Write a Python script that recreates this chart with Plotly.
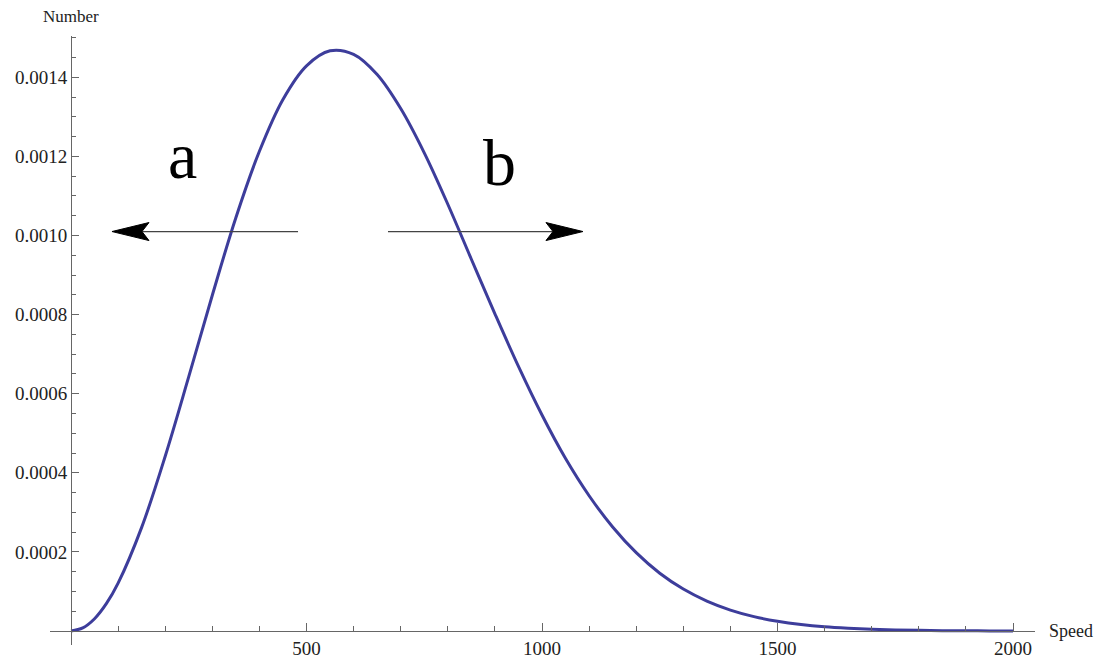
import plotly.graph_objects as go

# values (speed vs. fraction of molecules)
speed = [0, 25, 50, 75, 100, 150, 200, 250, 300, 350, 400, 450, 500, 550, 600, 650, 700,
         750, 800, 850, 900, 950, 1000, 1050, 1100, 1150, 1200, 1250, 1300, 1350, 1400,
         1450, 1500, 1550, 1600, 1650, 1700, 1750, 1800, 1850, 1900, 1950, 2000]
number = [0.0, 0.0000078, 0.000031, 0.000069, 0.000121, 0.000262, 0.000442, 0.000643,
          0.000849, 0.001045, 0.001213, 0.001344, 0.001429, 0.001467, 0.001458, 0.001407,
          0.001321, 0.001209, 0.001079, 0.000940, 0.000802, 0.000669, 0.000546, 0.000436,
          0.000342, 0.000263, 0.000198, 0.000146, 0.000106, 0.0000756, 0.0000529, 0.0000363,
          0.0000245, 0.0000162, 0.0000105, 0.0000068, 0.0000042, 0.0000026, 0.0000016,
          0.0000009, 0.0000005, 0.0000003, 0.0000002]

x_ticks = [500, 1000, 1500, 2000]
y_ticks = [0.0002, 0.0004, 0.0006, 0.0008, 0.0010, 0.0012, 0.0014]
y_labels = ["0.0002", "0.0004", "0.0006", "0.0008", "0.0010", "0.0012", "0.0014"]

xr = [-44.6, 2046.7]
yr = [-0.0000354, 0.0015044]
serif = "Liberation Serif, Times New Roman, serif"
axis_col = "#666666"

fig = go.Figure()
fig.add_trace(go.Scatter(x=speed, y=number, mode="lines",
                         line=dict(color="#3D3D9B", width=3, shape="spline", smoothing=1),
                         showlegend=False, hoverinfo="skip"))

fig.update_xaxes(range=xr, anchor="free", position=(0 - yr[0]) / (yr[1] - yr[0]),
                 automargin=False,
                 showgrid=False, zeroline=False, showline=True, linecolor=axis_col, linewidth=1,
                 tickmode="array", tickvals=x_ticks, ticks="inside", ticklen=8,
                 tickcolor=axis_col, tickfont=dict(family=serif, size=19, color="#222"),
                 minor=dict(dtick=100, tick0=0, ticks="inside", ticklen=5, tickcolor=axis_col,
                            showgrid=False))
fig.update_yaxes(range=yr, anchor="free", position=(0 - xr[0]) / (xr[1] - xr[0]),
                 automargin=False,
                 showgrid=False, zeroline=False, showline=True, linecolor=axis_col, linewidth=1,
                 tickmode="array", tickvals=y_ticks, ticktext=y_labels, ticks="inside", ticklen=7,
                 tickcolor=axis_col, tickfont=dict(family=serif, size=19, color="#222"),
                 minor=dict(dtick=0.00005, tick0=0, ticks="inside", ticklen=4, tickcolor=axis_col,
                            showgrid=False))

# arrows: shaft lines + filled barbed heads drawn in pixels at the tip
arrow_y = 0.00101
arrows = [(482, 87, 1), (673, 1087, -1)]  # tail x, tip x, direction
for tail, tip, d in arrows:
    fig.add_shape(type="line", x0=tail, x1=tip + d * 20, y0=arrow_y, y1=arrow_y,
                  line=dict(color="#444444", width=1.3))
    p = f"M0,0 L{d*37},9 L{d*30},0 L{d*37},-9 Z"
    fig.add_shape(type="path", xsizemode="pixel", ysizemode="pixel",
                  xanchor=tip, yanchor=arrow_y, path=p,
                  fillcolor="black", line=dict(color="black", width=1))

fig.add_annotation(x=236, y=0.0012035, text="a", showarrow=False,
                   font=dict(family=serif, size=66, color="black"))
fig.add_annotation(x=909, y=0.0011858, text="b", showarrow=False,
                   font=dict(family=serif, size=66, color="black"))

fig.add_annotation(x=0, y=1, xref="x", yref="paper", yshift=31, text="Number",
                   showarrow=False, font=dict(family=serif, size=17, color="#222"))
fig.add_annotation(x=1, y=0, xref="paper", yref="y", xanchor="left", xshift=12,
                   text="Speed", showarrow=False, font=dict(family=serif, size=18, color="#222"))

# page body adds an 8px offset, so margins are shifted to keep the plot area in place
fig.update_layout(width=1104, height=663, margin=dict(l=42, r=77, t=28, b=26),
                  plot_bgcolor="white", paper_bgcolor="white")

fig.write_html("out.html")
